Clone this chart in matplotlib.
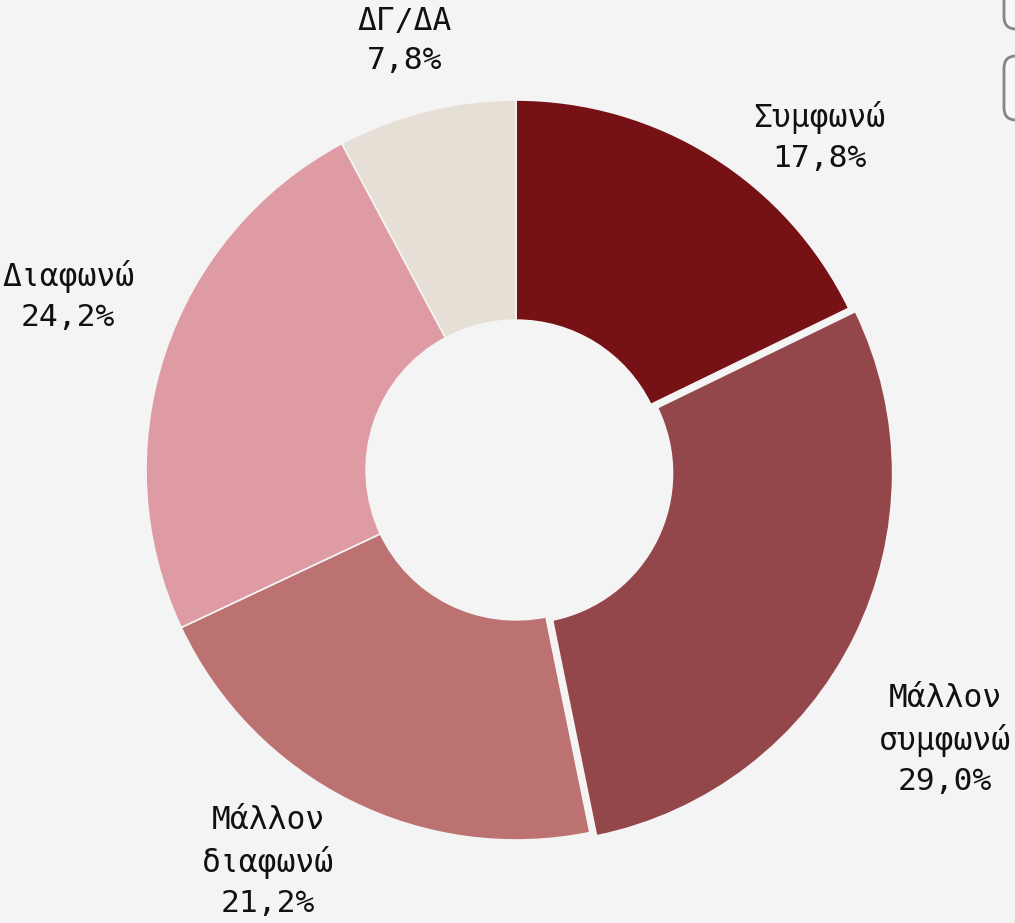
import matplotlib.pyplot as plt
from matplotlib.patches import FancyBboxPatch

# --- Data ---
categories = ["Συμφωνώ", "Μάλλον\nσυμφωνώ", "Μάλλον\nδιαφωνώ", "Διαφωνώ", "ΔΓ/ΔΑ"]
shares = [17.8, 29.0, 21.2, 24.2, 7.8]
colors = ["#761116", "#94474a", "#bc7270", "#de9ba4", "#e6dfd5"]
explode = [0, 0.02, 0, 0, 0]

# label anchors (pie radius = 1)
label_xy = [(0.82, 0.90), (1.16, -0.73), (-0.67, -1.06), (-1.21, 0.47), (-0.30, 1.16)]

BG = "#f4f4f4"
W, H, DPI = 1015, 923, 100
cx, cy, R = 516, 470, 370  # pixel centre and radius

fig = plt.figure(figsize=(W / DPI, H / DPI), dpi=DPI)
fig.patch.set_facecolor(BG)
ax = fig.add_axes([0, 0, 1, 1])
ax.set_facecolor(BG)

ax.pie(
    shares, colors=colors, explode=explode, startangle=90, counterclock=False,
    radius=1, wedgeprops=dict(width=0.595, edgecolor=BG, linewidth=1.2),
)

for cat, val, (x, y) in zip(categories, shares, label_xy):
    txt = f"{cat}\n{val:.1f}%".replace(".", ",")
    ax.text(x, y, txt, ha="center", va="center", fontsize=22.5,
            family="DejaVu Sans Mono", color="#111111", linespacing=1.42)

ax.set_aspect("auto")
ax.set_xlim(-cx / R, (W - cx) / R)
ax.set_ylim(-(H - cy) / R, cy / R)
ax.axis("off")

# partially visible buttons in the top-right corner
for y0, y1 in [(-12, 29), (56, 120)]:
    box = FancyBboxPatch(
        (1004 / W, 1 - y1 / H), 40 / W, (y1 - y0) / H,
        boxstyle="round,pad=0,rounding_size=0.012",
        transform=fig.transFigure, facecolor="#f8f8f8",
        edgecolor="#858585", linewidth=2, mutation_aspect=W / H,
    )
    fig.patches.append(box)

fig.savefig("out.png", dpi=DPI, facecolor=BG)
